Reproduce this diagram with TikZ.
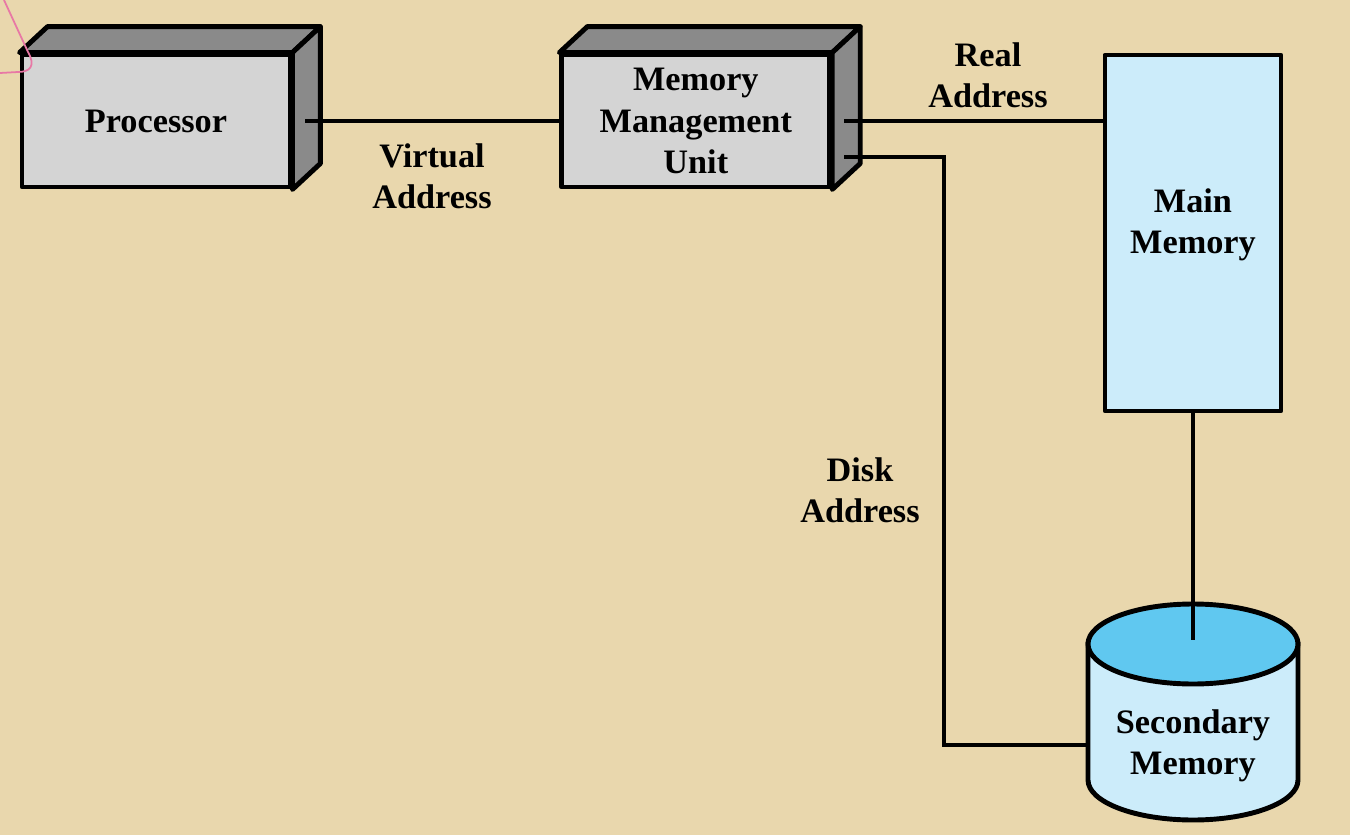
\documentclass[tikz,border=0pt]{standalone}
\usepackage{fontspec}
\setmainfont{Liberation Serif}
\usetikzlibrary{positioning}
\usetikzlibrary{calc}

\definecolor{parchment}{RGB}{233,215,173}
\definecolor{faceGray}{RGB}{212,212,212}
\definecolor{sideGray}{RGB}{138,138,138}
\definecolor{memBlue}{RGB}{204,236,250}
\definecolor{diskTop}{RGB}{96,200,240}
\definecolor{scribble}{RGB}{232,120,165}

\tikzset{
    unitbox/.style={draw, line width=2.8pt, fill=faceGray, line join=round,
        minimum width=5.36cm, minimum height=2.64cm, align=center,
        font=\fontsize{19.5}{23.5}\selectfont\bfseries},
    membox/.style={draw, line width=2.8pt, fill=memBlue, line join=round,
        minimum width=3.52cm, minimum height=7.12cm, align=center,
        font=\fontsize{19.5}{23.5}\selectfont\bfseries},
    face/.style={draw, line width=2.8pt, fill=sideGray, line join=round},
    wire/.style={line width=2pt},
    addr/.style={align=center, font=\fontsize{19.5}{23.5}\selectfont\bfseries},
}

\begin{document}
\begin{tikzpicture}[x=0.02cm, y=-0.02cm]
    \useasboundingbox (0,0) rectangle (1350,835);
    \fill[parchment] (0,0) rectangle (1350,835);

    % boxes
    \node[unitbox] (proc) at (156,121) {Processor};
    \node[unitbox, right=5.34cm of proc] (mmu) {Memory\\Management\\Unit};
    \node[membox, text depth=0.48cm] (main) at (1193,233) {Main\\Memory};

    % depth of the two units
    \foreach \b in {proc, mmu} {
        \draw[face] (\b.north west) -- ++(28,-26) -- ($(\b.north east)+(28,-26)$) -- (\b.north east) -- cycle;
        \draw[face] (\b.north east) -- ++(28,-26) -- ($(\b.south east)+(28,-26)$) -- (\b.south east) -- cycle;
    }

    % disk
    \draw[line width=2.8pt, fill=memBlue] (1088,644) -- (1088,780)
        arc[start angle=180, end angle=0, x radius=105, y radius=40] -- (1298,644) -- cycle;
    \draw[line width=2.8pt, fill=diskTop] (1193,644) ellipse[x radius=105, y radius=40];
    \node[addr] (sec) at (1193,746) {Secondary\\Memory};
    \coordinate (secTop) at (1193,640);
    \coordinate (secSide) at (1088,745);

    % connections
    \draw[wire] ($(proc.east)+(13,0)$) -- (mmu.west |- proc.east);
    \draw[wire] ($(mmu.east)+(12,0)$) -- (main.west |- mmu.east);
    \draw[wire] ($(mmu.east)+(12,36)$) -- ++(100,0) |- (secSide);
    \draw[wire] (main.south) -- (secTop);

    % labels
    \node[addr] (virt) at (432,176) {Virtual\\Address};
    \node[addr] (real) at (988,75) {Real\\Address};
    \node[addr] (disk) at (860,490) {Disk\\Address};

    \draw[scribble, line width=1pt] (4,0) -- (28,52) .. controls (36,66) and (30,72) .. (18,72) -- (0,73);
\end{tikzpicture}
\end{document}
